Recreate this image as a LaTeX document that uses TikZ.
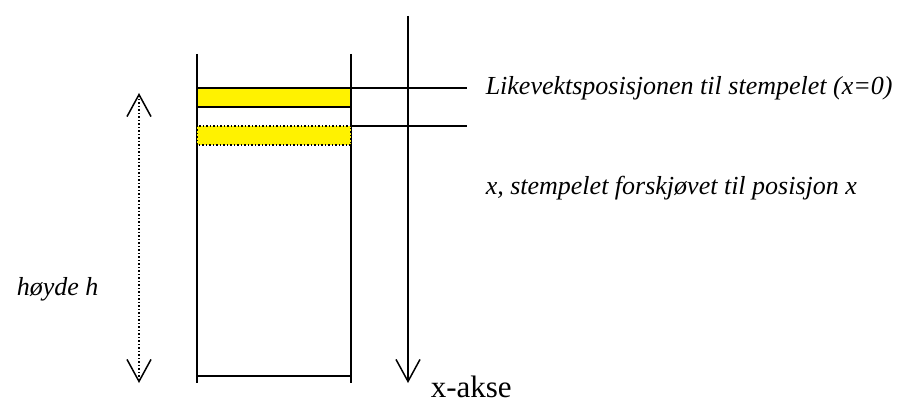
\documentclass[tikz,border=0pt]{standalone}
\usepackage{fontspec}
\setmainfont{Liberation Serif}
\usetikzlibrary{arrows.meta}
\tikzset{vtip/.tip={Straight Barb[length=22pt,width=24pt,line width=1.5pt]}}
\begin{document}
\begin{tikzpicture}[x=1pt,y=-1pt,line width=1.5pt,
  lbl/.style={font=\fontsize{26}{30}\selectfont\itshape,anchor=base west,inner sep=0pt},
  axlbl/.style={font=\fontsize{31}{36}\selectfont,anchor=base west,inner sep=0pt,text depth=0pt},
  piston/.style={fill=yellow,inner sep=0pt,outer sep=0pt,minimum width=154pt,minimum height=19pt}
]
\useasboundingbox (0,0) rectangle (903,401);
% cylinder
\coordinate (lwt) at (197,54);
\coordinate (lwb) at (197,383);
\coordinate (rwt) at (351,54);
\coordinate (rwb) at (351,383);
\coordinate (bl) at (197,376);
\coordinate (br) at (351,376);
\draw (lwt) -- (lwb);
\draw (rwt) -- (rwb);
\draw (bl) -- (br);
% pistons
\node[piston,draw] (p1) at (274,97.5) {};
\node[piston] (p2) at (274,135.5) {};
\draw[dotted] (p2.south west) rectangle (p2.north east);
% reference lines
\coordinate (e1) at (467,88);
\coordinate (e2) at (467,126);
\draw (p1.north east) -- (e1);
\draw (p2.north east) -- (e2);
% x axis
\coordinate (xt) at (408,16);
\coordinate (xb) at (408,383);
\draw[-{vtip}] (xt) -- (xb);
% height arrow
\coordinate (ht) at (139,93);
\coordinate (hb) at (139,383);
\draw[dotted,{vtip}-{vtip}] (ht) -- (hb);
% labels
\node[lbl] (t1) at (485,95) {Likevektsposisjonen til stempelet (x=0)};
\node[lbl] (t2) at (485,195) {x, stempelet forskjøvet til posisjon x};
\node[lbl] (t3) at (16,295) {høyde h};
\node[axlbl] (t4) at (430,397) {x-akse};
\end{tikzpicture}
\end{document}
